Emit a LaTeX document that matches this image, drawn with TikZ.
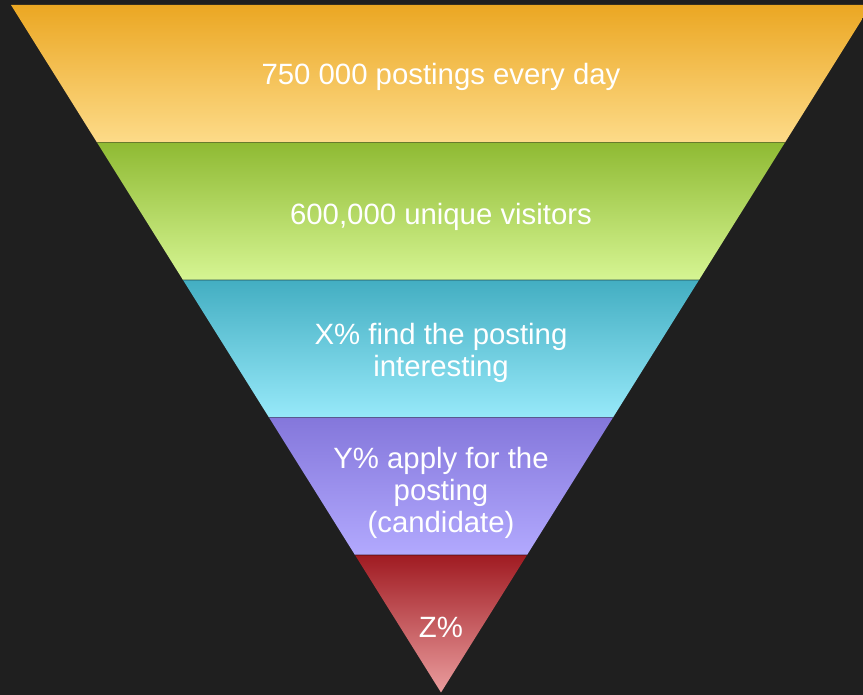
\documentclass[tikz,border=0pt]{standalone}
\usepackage{fontspec}
\setmainfont{Liberation Sans}
\definecolor{bg}{HTML}{1F1F1F}
\definecolor{postingstop}{HTML}{EBA723}
\definecolor{postingsbot}{HTML}{FDDB89}
\definecolor{visitorstop}{HTML}{8FBA33}
\definecolor{visitorsbot}{HTML}{D6F593}
\definecolor{interesttop}{HTML}{43AEC2}
\definecolor{interestbot}{HTML}{97E9F9}
\definecolor{applytop}{HTML}{8477DB}
\definecolor{applybot}{HTML}{B2A9FE}
\definecolor{hiredtop}{HTML}{A01B22}
\definecolor{hiredbot}{HTML}{EA9D9E}
\tikzset{
    funnel text/.style={text=white, font=\fontsize{16.7}{18.2}\selectfont, align=center, anchor=base},
    band edge/.style={draw=black, draw opacity=0.2, line width=0.025cm}
}

\begin{document}
\begin{tikzpicture}[x=0.02cm, y=-0.02cm]
        \fill[bg] (0, 0) rectangle (863, 695);
        \clip (0, 0) rectangle (863, 695);

        \shade[top color=postingstop, bottom color=postingsbot] (11, 5) -- (871, 5) -- (785, 142.5) -- (97, 142.5) -- cycle;
        \shade[top color=visitorstop, bottom color=visitorsbot] (97, 142.5) -- (785, 142.5) -- (699, 280) -- (183, 280) -- cycle;
        \shade[top color=interesttop, bottom color=interestbot] (183, 280) -- (699, 280) -- (613, 417.5) -- (269, 417.5) -- cycle;
        \shade[top color=applytop, bottom color=applybot] (269, 417.5) -- (613, 417.5) -- (527, 555) -- (355, 555) -- cycle;
        \shade[top color=hiredtop, bottom color=hiredbot] (355, 555) -- (527, 555) -- (441, 692.5) -- cycle;

        \draw[band edge] (97, 142.5) -- (785, 142.5);
        \draw[band edge] (183, 280) -- (699, 280);
        \draw[band edge] (269, 417.5) -- (613, 417.5);
        \draw[band edge] (355, 555) -- (527, 555);

        \node[funnel text] (postings) at (441, 85) {750 000 postings every day};
        \node[funnel text] (visitors) at (441, 225) {600,000 unique visitors};
        \node[funnel text] (interest) at (441, 376.7) {X\% find the posting\\interesting};
        \node[funnel text] (apply) at (441, 532.5) {Y\% apply for the\\posting\\(candidate)};
        \node[funnel text] (hired) at (441, 638) {Z\%};

\end{tikzpicture}
\end{document}
